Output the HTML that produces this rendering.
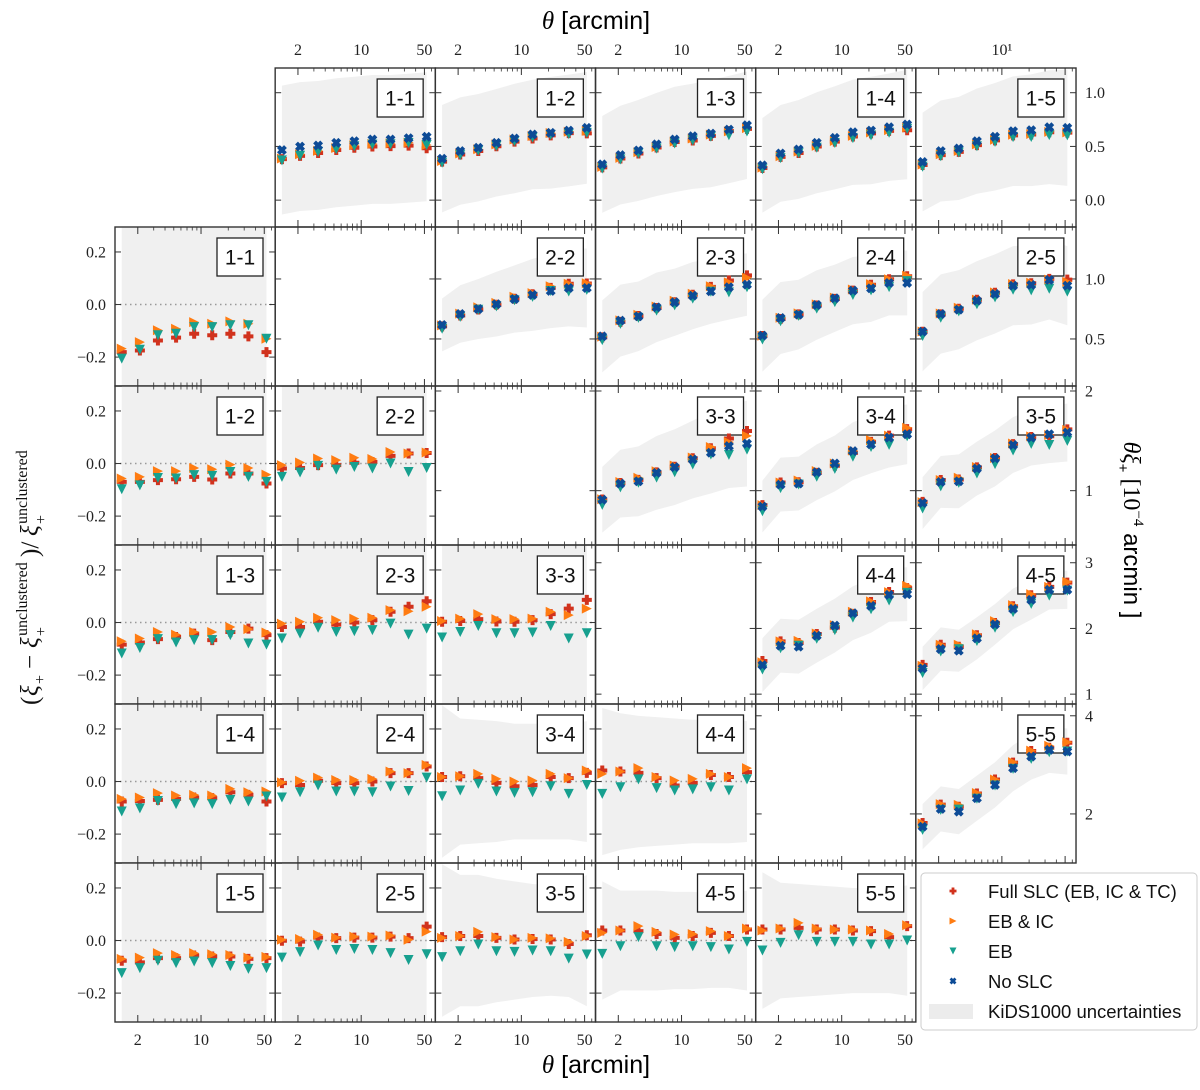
<!DOCTYPE html>
<html><head><meta charset="utf-8"><style>
html,body{margin:0;padding:0;background:#fff;}
svg{display:block;}
.tk{font-family:"Liberation Serif","DejaVu Serif",serif;font-size:16px;fill:#222;}
.bl{font-family:"Liberation Sans","DejaVu Sans",sans-serif;font-size:21px;fill:#111;}
.lg{font-family:"Liberation Sans","DejaVu Sans",sans-serif;font-size:18.5px;fill:#111;}
.yt{font-family:"Liberation Serif","DejaVu Serif",serif;font-size:25px;fill:#111;}
.ys{font-family:"Liberation Serif","DejaVu Serif",serif;font-size:16px;fill:#111;}
</style></head><body>
<svg id="fig" width="1200" height="1090" viewBox="0 0 1200 1090" xmlns="http://www.w3.org/2000/svg">
<text x="596" y="29" text-anchor="middle" style="font-family:'Liberation Sans',sans-serif;font-size:25px"><tspan style="font-family:'Liberation Serif',serif;font-style:italic">θ</tspan> [arcmin]</text>
<text x="596" y="1073" text-anchor="middle" style="font-family:'Liberation Sans',sans-serif;font-size:25px"><tspan style="font-family:'Liberation Serif',serif;font-style:italic">θ</tspan> [arcmin]</text>
<g transform="translate(38,545) rotate(-90)">
<text class="yt" x="-160" y="0">(</text>
<text class="yt" x="-151" y="0" font-style="italic">ξ</text>
<text class="ys" x="-139" y="7">+</text>
<text class="yt" x="-124" y="0">−</text>
<text class="yt" x="-103" y="0" font-style="italic">ξ</text>
<text class="ys" x="-91" y="-11">unclustered</text>
<text class="ys" x="-91" y="8">+</text>
<text class="yt" x="-12" y="0">)/</text>
<text class="yt" x="9" y="0" font-style="italic">ξ</text>
<text class="ys" x="21" y="-11">unclustered</text>
<text class="ys" x="21" y="8">+</text>
</g>
<text transform="translate(1124,530) rotate(90)" text-anchor="middle" style="font-family:'Liberation Sans',sans-serif;font-size:24px"><tspan style="font-family:'Liberation Serif',serif;font-style:italic">θξ</tspan><tspan font-size="15" dy="6">+</tspan><tspan dy="-6" style="font-family:'Liberation Serif',serif"> [10</tspan><tspan font-size="15" dy="-10" style="font-family:'Liberation Serif',serif">−4</tspan><tspan dy="10"> arcmin ]</tspan></text>
<g id="plots"></g>
<g id="legend">
<rect x="921" y="873" width="276" height="157" rx="4" fill="#fff" stroke="#ccc" stroke-width="1"/>
</g>
</svg>
<script>
const thetaBins = [1.33, 2.11, 3.34, 5.30, 8.40, 13.3, 21.1, 33.4, 52.9];
const binNames = ["1-1","1-2","1-3","1-4","1-5","2-2","2-3","2-4","2-5","3-3","3-4","3-5","4-4","4-5","5-5"];
const xTickMajor = [2, 10, 50];
const xTickMinor = [3,4,5,6,7,8,9,20,30,40,60];
const resTicks = [-0.2, 0.0, 0.2];
const resTickLabels = ["−0.2", "0.0", "0.2"];
const upperTicks = [[0.0,0.5,1.0],[0.5,1.0],[1,2],[1,2,3],[2,4]];
const upperTickLabels = [["0.0","0.5","1.0"],["0.5","1.0"],["1","2"],["1","2","3"],["2","4"]];
const upperRanges = [[-0.25,1.23],[0.108,1.433],[0.455,2.05],[0.85,3.27],[1.0,4.24]];

const noSLC = {
"1-1":[0.466,0.499,0.509,0.534,0.549,0.565,0.565,0.577,0.59],
"1-2":[0.386,0.457,0.488,0.534,0.574,0.611,0.627,0.648,0.673],
"1-3":[0.333,0.419,0.463,0.519,0.565,0.595,0.62,0.657,0.697],
"1-4":[0.324,0.435,0.472,0.534,0.58,0.632,0.648,0.679,0.704],
"1-5":[0.355,0.457,0.481,0.549,0.59,0.642,0.651,0.679,0.673],
"2-2":[0.617,0.708,0.75,0.79,0.833,0.867,0.9,0.925,0.925],
"2-3":[0.522,0.653,0.689,0.764,0.806,0.861,0.897,0.931,0.953],
"2-4":[0.528,0.675,0.703,0.783,0.839,0.903,0.922,0.967,0.967],
"2-5":[0.561,0.708,0.744,0.819,0.875,0.944,0.95,0.992,0.944],
"3-3":[0.909,1.071,1.094,1.179,1.236,1.313,1.381,1.447,1.472],
"3-4":[0.841,1.061,1.071,1.185,1.273,1.397,1.465,1.532,1.566],
"3-5":[0.876,1.088,1.094,1.222,1.323,1.458,1.532,1.566,1.583],
"4-4":[1.443,1.737,1.722,1.89,2.043,2.232,2.344,2.511,2.522],
"4-5":[1.392,1.687,1.661,1.85,2.063,2.298,2.435,2.588,2.588],
"5-5":[1.741,2.102,2.047,2.32,2.592,2.933,3.169,3.306,3.271]};

const resFull = {
"1-1":[-0.181,-0.175,-0.137,-0.126,-0.111,-0.117,-0.111,-0.121,-0.181],
"1-2":[-0.07,-0.07,-0.063,-0.06,-0.051,-0.061,-0.038,-0.038,-0.076],
"1-3":[-0.084,-0.076,-0.063,-0.055,-0.042,-0.067,-0.036,-0.023,-0.048],
"1-4":[-0.076,-0.074,-0.07,-0.066,-0.061,-0.063,-0.041,-0.051,-0.076],
"1-5":[-0.077,-0.083,-0.067,-0.067,-0.057,-0.061,-0.061,-0.07,-0.067],
"2-2":[-0.019,-0.017,-0.006,-0.006,0.003,0.006,0.029,0.038,0.04],
"2-3":[-0.017,-0.017,0.003,-0.008,0,0.009,0.041,0.06,0.081],
"2-4":[-0.006,-0.013,0.003,-0.006,-0.006,0,0.032,0.032,0.057],
"2-5":[-0.001,-0.004,0.011,0.009,0.011,0.011,0.015,0.009,0.053],
"3-3":[0.003,0.006,0.013,0.004,0.003,0.009,0.032,0.053,0.086],
"3-4":[0.017,0.02,0.013,-0.005,-0.018,-0.013,0.017,0.013,0.033],
"3-5":[0.013,0.017,0.017,0.01,0.004,0.006,0.004,-0.013,0.02],
"4-4":[0.042,0.038,0.033,0.013,-0.015,-0.005,0.025,0.017,0.036],
"4-5":[0.038,0.038,0.036,0.025,0.01,0.017,0.029,0.017,0.042],
"5-5":[0.042,0.042,0.048,0.042,0.042,0.038,0.036,0.013,0.055]};

const resEBIC = {
"1-1":[-0.168,-0.143,-0.098,-0.092,-0.067,-0.073,-0.064,-0.073,-0.13],
"1-2":[-0.057,-0.051,-0.029,-0.029,-0.017,-0.022,-0.004,-0.017,-0.042],
"1-3":[-0.071,-0.061,-0.036,-0.046,-0.036,-0.036,-0.017,-0.025,-0.038],
"1-4":[-0.066,-0.061,-0.044,-0.053,-0.051,-0.053,-0.028,-0.041,-0.038],
"1-5":[-0.07,-0.065,-0.048,-0.055,-0.048,-0.052,-0.055,-0.065,-0.062],
"2-2":[-0.006,0.004,0.019,0.013,0.022,0.017,0.044,0.038,0.042],
"2-3":[-0.004,0.003,0.018,0.009,0.015,0.018,0.047,0.043,0.06],
"2-4":[-0.003,0.003,0.015,0.006,0.006,0.01,0.038,0.032,0.063],
"2-5":[0.003,0.006,0.022,0.011,0.015,0.015,0.019,0.003,0.034],
"3-3":[0.006,0.015,0.032,0.013,0.013,0.015,0.041,0.028,0.053],
"3-4":[0.017,0.02,0.029,0.01,0,0.004,0.029,0.013,0.042],
"3-5":[0.01,0.017,0.033,0.013,0.004,0.01,0.008,-0.005,0.017],
"4-4":[0.029,0.038,0.051,0.017,0.004,0.01,0.029,0.017,0.051],
"4-5":[0.029,0.038,0.055,0.033,0.023,0.025,0.036,0.017,0.046],
"5-5":[0.038,0.046,0.067,0.046,0.042,0.042,0.038,0.025,0.058]};

const resEB = {
"1-1":[-0.206,-0.172,-0.117,-0.111,-0.086,-0.086,-0.079,-0.079,-0.13],
"1-2":[-0.098,-0.083,-0.055,-0.057,-0.044,-0.047,-0.032,-0.051,-0.07],
"1-3":[-0.118,-0.097,-0.063,-0.076,-0.067,-0.067,-0.048,-0.08,-0.084],
"1-4":[-0.114,-0.102,-0.074,-0.086,-0.083,-0.086,-0.07,-0.076,-0.057],
"1-5":[-0.124,-0.105,-0.077,-0.086,-0.08,-0.086,-0.097,-0.108,-0.105],
"2-2":[-0.051,-0.034,-0.009,-0.023,-0.013,-0.019,0,-0.032,-0.017],
"2-3":[-0.061,-0.042,-0.02,-0.036,-0.033,-0.029,-0.004,-0.046,-0.023],
"2-4":[-0.061,-0.041,-0.015,-0.038,-0.038,-0.041,-0.019,-0.036,0.015],
"2-5":[-0.065,-0.044,-0.019,-0.036,-0.032,-0.036,-0.048,-0.074,-0.052],
"3-3":[-0.057,-0.036,-0.013,-0.041,-0.041,-0.038,-0.013,-0.061,-0.041],
"3-4":[-0.056,-0.034,-0.009,-0.038,-0.043,-0.041,-0.018,-0.047,-0.013],
"3-5":[-0.063,-0.041,-0.015,-0.041,-0.043,-0.038,-0.041,-0.069,-0.053],
"4-4":[-0.047,-0.022,0.008,-0.025,-0.034,-0.03,-0.022,-0.034,0.008],
"4-5":[-0.051,-0.022,0.013,-0.022,-0.025,-0.022,-0.025,-0.034,-0.005],
"5-5":[-0.038,-0.009,0.02,-0.005,-0.005,-0.005,-0.015,-0.015,0]};

const sigUpper = {
"1-1":[0.6,0.6,0.6,0.6,0.6,0.6,0.6,0.6,0.6],
"1-2":[0.5,0.5,0.5,0.5,0.51,0.51,0.52,0.52,0.52],
"1-3":[0.45,0.46,0.47,0.48,0.49,0.49,0.5,0.5,0.5],
"1-4":[0.44,0.45,0.46,0.47,0.48,0.49,0.5,0.5,0.51],
"1-5":[0.46,0.47,0.48,0.49,0.5,0.51,0.52,0.53,0.54],
"2-2":[0.22,0.24,0.25,0.27,0.28,0.3,0.31,0.32,0.33],
"2-3":[0.3,0.3,0.29,0.29,0.28,0.28,0.27,0.27,0.26],
"2-4":[0.3,0.3,0.29,0.29,0.28,0.28,0.28,0.27,0.27],
"2-5":[0.33,0.33,0.33,0.33,0.33,0.33,0.33,0.33,0.33],
"3-3":[0.33,0.34,0.35,0.37,0.38,0.39,0.41,0.42,0.43],
"3-4":[0.26,0.27,0.27,0.28,0.28,0.29,0.29,0.3,0.3],
"3-5":[0.26,0.26,0.27,0.27,0.28,0.28,0.28,0.29,0.29],
"4-4":[0.41,0.41,0.41,0.41,0.41,0.41,0.41,0.41,0.41],
"4-5":[0.33,0.33,0.32,0.32,0.31,0.31,0.3,0.3,0.29],
"5-5":[0.46,0.46,0.46,0.46,0.46,0.47,0.47,0.47,0.47]};

const sigLower = {
"1-1":[0.6,0.6,0.6,0.6,0.6,0.6,0.6,0.6,0.6],
"1-2":[0.6,0.6,0.6,0.6,0.6,0.6,0.6,0.6,0.6],
"1-3":[0.6,0.6,0.6,0.6,0.6,0.6,0.6,0.6,0.6],
"1-4":[0.6,0.6,0.6,0.6,0.6,0.6,0.6,0.6,0.6],
"1-5":[0.6,0.6,0.6,0.6,0.6,0.6,0.6,0.6,0.6],
"2-2":[0.6,0.6,0.6,0.6,0.6,0.6,0.6,0.6,0.6],
"2-3":[0.6,0.6,0.6,0.6,0.6,0.6,0.6,0.6,0.6],
"2-4":[0.6,0.6,0.6,0.6,0.6,0.6,0.6,0.6,0.6],
"2-5":[0.6,0.6,0.6,0.6,0.6,0.6,0.6,0.6,0.6],
"3-3":[0.6,0.6,0.6,0.6,0.6,0.6,0.6,0.6,0.6],
"3-4":[0.29,0.24,0.235,0.23,0.22,0.22,0.22,0.22,0.23],
"3-5":[0.29,0.25,0.25,0.235,0.225,0.215,0.21,0.215,0.25],
"4-4":[0.28,0.26,0.25,0.245,0.24,0.235,0.235,0.235,0.23],
"4-5":[0.225,0.19,0.19,0.19,0.185,0.185,0.18,0.18,0.19],
"5-5":[0.26,0.22,0.215,0.21,0.205,0.2,0.2,0.2,0.21]};

const NS = "http://www.w3.org/2000/svg";
const COL_L = 115, COL_W = 160.17, ROW_T = 68, ROW_H = 159;
const LX0 = Math.log10(1.12), LX1 = Math.log10(66);
const RES_MIN = -0.310, RES_MAX = 0.295;
const C_FULL = "#d1321d", C_EBIC = "#ff7c12", C_EB = "#17a08f", C_NO = "#0d4b96";
const root = document.getElementById("plots");

function mk(tag, attrs, parent){
  const e = document.createElementNS(NS, tag);
  for (const k in attrs) e.setAttribute(k, attrs[k]);
  (parent || root).appendChild(e);
  return e;
}
function xScale(col, t){ return COL_L + col*COL_W + (Math.log10(t)-LX0)/(LX1-LX0)*COL_W; }
function yScale(row, v, lo, hi){ const top = ROW_T + row*ROW_H; return top + ROW_H - (v-lo)/(hi-lo)*ROW_H; }

function marker(g, type, x, y, s){
  let e;
  const a = s*0.5, w = s*0.2;
  if (type === "plus" || type === "x"){
    const d = `M${-w},${-a}H${w}V${-w}H${a}V${w}H${w}V${a}H${-w}V${w}H${-a}V${-w}H${-w}Z`;
    e = mk("path", {d:d, transform:`translate(${x.toFixed(2)},${y.toFixed(2)})` + (type==="x" ? " rotate(45)" : ""), fill: type==="plus" ? C_FULL : C_NO}, g);
  } else if (type === "right"){
    e = mk("polygon", {points:`${x-a},${y-a} ${x+a},${y} ${x-a},${y+a}`, fill:C_EBIC}, g);
  } else {
    e = mk("polygon", {points:`${x-a},${y-a} ${x+a},${y-a} ${x},${y+a}`, fill:C_EB}, g);
  }
  return e;
}

function panelFrame(g, row, col, kind){
  const L = COL_L + col*COL_W, T = ROW_T + row*ROW_H, R = L + COL_W, B = T + ROW_H;
  for (const t of xTickMajor){
    const x = xScale(col, t);
    mk("line", {x1:x, x2:x, y1:B, y2:B-7, stroke:"#333", "stroke-width":1}, g);
    mk("line", {x1:x, x2:x, y1:T, y2:T+7, stroke:"#333", "stroke-width":1}, g);
  }
  for (const t of xTickMinor){
    const x = xScale(col, t);
    mk("line", {x1:x, x2:x, y1:B, y2:B-3.5, stroke:"#333", "stroke-width":0.8}, g);
    mk("line", {x1:x, x2:x, y1:T, y2:T+3.5, stroke:"#333", "stroke-width":0.8}, g);
  }
  let ticks, lo, hi;
  if (kind === "lower"){ ticks = resTicks; lo = RES_MIN; hi = RES_MAX; }
  else { ticks = upperTicks[Math.min(row,4)]; lo = upperRanges[Math.min(row,4)][0]; hi = upperRanges[Math.min(row,4)][1]; }
  for (const v of ticks){
    const y = yScale(row, v, lo, hi);
    mk("line", {x1:L, x2:L+6, y1:y, y2:y, stroke:"#333", "stroke-width":1}, g);
    mk("line", {x1:R, x2:R-6, y1:y, y2:y, stroke:"#333", "stroke-width":1}, g);
  }
  const fr = mk("rect", {x:L, y:T, width:COL_W, height:ROW_H, fill:"none", stroke:"#333", "stroke-width":1.4}, g);
  
  
}

function clipFor(row, col){
  const id = `clip-${row}-${col}`;
  let defs = document.getElementById("defs");
  if (!defs){ defs = mk("defs", {id:"defs"}); }
  const cp = mk("clipPath", {id:id}, defs);
  mk("rect", {x:COL_L+col*COL_W, y:ROW_T+row*ROW_H, width:COL_W, height:ROW_H}, cp);
  return `url(#${id})`;
}

function binLabel(g, row, col, name){
  const L = COL_L + col*COL_W, T = ROW_T + row*ROW_H;
  const r = mk("rect", {x:L+102, y:T+11, width:46, height:38, fill:"#fff", stroke:"#222", "stroke-width":1.3}, g);
  
  
  const t = mk("text", {x:L+125, y:T+37.5, "text-anchor":"middle", class:"bl"}, g);
  t.textContent = name;
  
  
}

function bandPath(col, row, center, sig, lo, hi){
  let top = [], bot = [];
  for (let k=0;k<thetaBins.length;k++){
    const x = xScale(col, thetaBins[k]);
    top.push(`${x.toFixed(2)},${yScale(row, center[k]+sig[k], lo, hi).toFixed(2)}`);
    bot.push(`${x.toFixed(2)},${yScale(row, center[k]-sig[k], lo, hi).toFixed(2)}`);
  }
  return "M" + top.join("L") + "L" + bot.reverse().join("L") + "Z";
}

for (const name of binNames){
  const i = +name[0], j = +name[2];
  const col = i-1, row = j;
  const g = mk("g", {});
  
  
  const zero = new Array(thetaBins.length).fill(0);
  const band = mk("path", {d:bandPath(col,row,zero,sigLower[name],RES_MIN,RES_MAX), fill:"#f0f0f0", "clip-path":clipFor(row,col)}, g);
  
  
  const y0 = yScale(row, 0, RES_MIN, RES_MAX);
  const zl = mk("line", {x1:COL_L+col*COL_W, x2:COL_L+(col+1)*COL_W, y1:y0, y2:y0, stroke:"#999", "stroke-width":1.5, "stroke-dasharray":"1.5,3.5"}, g);
  
  
  binLabel(g, row, col, name);
  panelFrame(g, row, col, "lower");
  const series = [["plus", resFull[name]],["right", resEBIC[name]],["down", resEB[name]]];
  for (const [type, arr] of series){
    for (let k=0;k<thetaBins.length;k++){
      const m = marker(g, type, xScale(col, thetaBins[k]), yScale(row, arr[k], RES_MIN, RES_MAX), 10);
      
      
    }
  }
}

for (const name of binNames){
  const i = +name[0], j = +name[2];
  const row = i-1, col = j;
  const [lo, hi] = upperRanges[row];
  const g = mk("g", {});
  
  
  const band = mk("path", {d:bandPath(col,row,noSLC[name],sigUpper[name],lo,hi), fill:"#f0f0f0", "clip-path":clipFor(row,col)}, g);
  
  
  binLabel(g, row, col, name);
  panelFrame(g, row, col, "upper");
  const base = noSLC[name];
  const series = [["plus", resFull[name]],["right", resEBIC[name]],["down", resEB[name]]];
  for (const [type, arr] of series){
    for (let k=0;k<thetaBins.length;k++){
      const v = base[k]*(1+arr[k]);
      const m = marker(g, type, xScale(col, thetaBins[k]), yScale(row, v, lo, hi), 10);
      
      
    }
  }
  for (let k=0;k<thetaBins.length;k++){
    const m = marker(g, "x", xScale(col, thetaBins[k]), yScale(row, base[k], lo, hi), 10);
    
    
  }
}

for (let r=1;r<=4;r++){
  const g = mk("g", {});
  
  
  panelFrame(g, r, r, "upper");
}

const tl = mk("g", {});


for (let c=1;c<=4;c++){
  for (const t of xTickMajor){
    const e = mk("text", {x:xScale(c,t), y:55, "text-anchor":"middle", class:"tk"}, tl);
    e.textContent = String(t);
    
    
  }
}
{
  const e = mk("text", {x:xScale(5,10), y:55, "text-anchor":"middle", class:"tk"}, tl);
  e.textContent = "10¹";
  
  
}
for (let c=0;c<=4;c++){
  for (const t of xTickMajor){
    const e = mk("text", {x:xScale(c,t), y:1045, "text-anchor":"middle", class:"tk"}, tl);
    e.textContent = String(t);
    
    
  }
}
for (let r=1;r<=5;r++){
  for (let k=0;k<resTicks.length;k++){
    const e = mk("text", {x:106, y:yScale(r,resTicks[k],RES_MIN,RES_MAX)+5.5, "text-anchor":"end", class:"tk"}, tl);
    e.textContent = resTickLabels[k];
    
    
  }
}
for (let r=0;r<=4;r++){
  const [lo,hi] = upperRanges[r];
  for (let k=0;k<upperTicks[r].length;k++){
    const e = mk("text", {x:1085, y:yScale(r,upperTicks[r][k],lo,hi)+5.5, "text-anchor":"start", class:"tk"}, tl);
    e.textContent = upperTickLabels[r][k];
    
    
  }
}

const lg = document.getElementById("legend");
const legendItems = [["plus","Full SLC (EB, IC & TC)"],["right","EB & IC"],["down","EB"],["x","No SLC"]];
legendItems.forEach((it, k) => {
  const y = 891 + k*30;
  const m = marker(lg, it[0], 953, y, 7);
  
  
  const t = mk("text", {x:988, y:y+7, class:"lg"}, lg);
  t.textContent = it[1];
  
  
});
{
  const p = mk("rect", {x:929, y:1004, width:44, height:15, fill:"#ececec"}, lg);
  
  
  const t = mk("text", {x:988, y:1018, class:"lg"}, lg);
  t.textContent = "KiDS1000 uncertainties";
  
  
}
</script>
</body></html>
